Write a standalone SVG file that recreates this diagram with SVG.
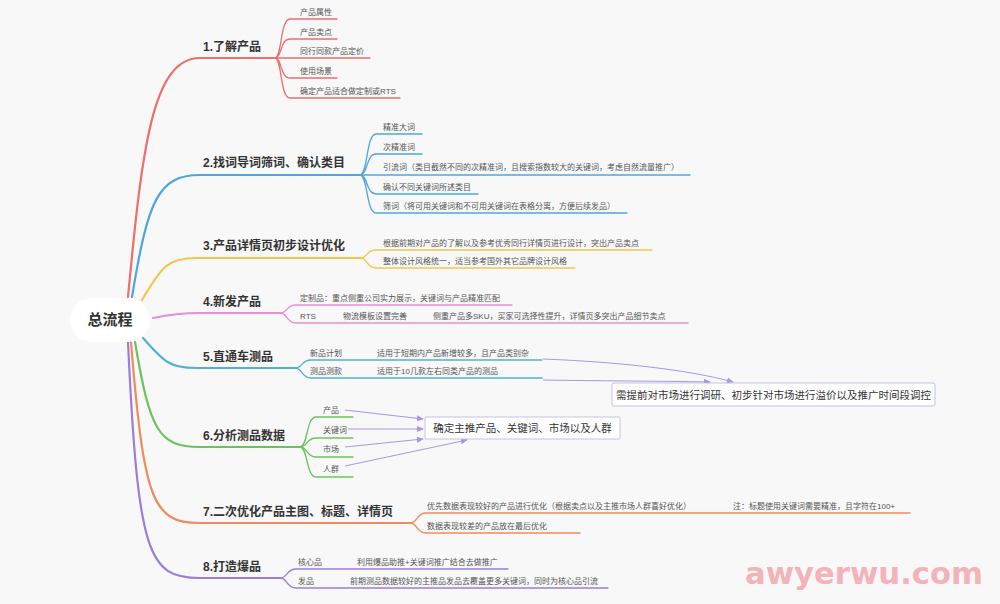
<svg xmlns="http://www.w3.org/2000/svg" width="1000" height="604" viewBox="0 0 1000 604">
<defs>
<style>
.lbl{font-family:"Liberation Sans","Noto Sans CJK SC",sans-serif;font-size:12px;font-weight:bold;fill:#333}
.sub{font-family:"Liberation Sans","Noto Sans CJK SC",sans-serif;font-size:8px;fill:#555}
.box{font-family:"Liberation Sans","Noto Sans CJK SC",sans-serif;font-size:10.5px;fill:#333}
.main{fill:none;stroke-width:2.2;stroke-linecap:round}
.br{fill:none;stroke-width:1.3;stroke-linecap:round}
.rel{fill:none;stroke:#a996e6;stroke-width:1}
</style>
<marker id="ah" viewBox="0 0 8 8" refX="7" refY="4" markerWidth="7" markerHeight="7" orient="auto" markerUnits="userSpaceOnUse">
<path d="M0,0.5 L8,4 L0,7.5 z" fill="#a996e6"/>
</marker>
</defs>
<rect width="1000" height="604" fill="#f8f8f8"/>

<g id="connectors">
<path class="main" stroke="#ec6e6e" stroke-width="3" d="M128,297 C142,150 152,58 200,58 L275,58"/>
<path class="main" stroke="#4da6de" stroke-width="3" d="M132,297 C148,200 158,175 200,175 L360,175"/>
<path class="main" stroke="#f4c54a" stroke-width="3" d="M142,300 C162,266 168,258 196,258 L360,258"/>
<path class="main" stroke="#e68fd6" stroke-width="3" d="M153,318 C172,314 184,313 200,313 L280,313"/>
<path class="main" stroke="#4fb3cf" stroke-width="3" d="M143,338 C164,362 170,368 196,368 L295,368"/>
<path class="main" stroke="#6cc25c" stroke-width="3" d="M135,342 C150,430 158,447 200,447 L300,447"/>
<path class="main" stroke="#f08a5d" stroke-width="3" d="M131,342 C144,500 152,523 200,523 L410,523"/>
<path class="main" stroke="#9a7ed8" stroke-width="3" d="M128,342 C138,555 148,578 200,578 L280,578"/>
<g stroke="#ec6e6e">
<path class="br" d="M275,58 C282,58 280,19 290,19 L337,19"/>
<path class="br" d="M275,58 C282,58 280,39 290,39 L337,39"/>
<path class="br" d="M275,58 L370,58"/>
<path class="br" d="M275,58 C282,58 280,78 290,78 L337,78"/>
<path class="br" d="M275,58 C282,58 280,98 290,98 L400,98"/>
</g>
<g stroke="#4da6de">
<path class="br" d="M360,175 C368,175 366,134 376,134 L422,134"/>
<path class="br" d="M360,175 C368,175 366,154 376,154 L422,154"/>
<path class="br" d="M360,175 L690,175"/>
<path class="br" d="M360,175 C368,175 366,194 376,194 L478,194"/>
<path class="br" d="M360,175 C368,175 366,213 376,213 L627,213"/>
</g>
<g stroke="#f4c54a">
<path class="br" d="M360,258 C368,258 366,250 376,250 L652,250"/>
<path class="br" d="M360,258 C368,258 366,268 376,268 L575,268"/>
</g>
<g stroke="#e68fd6">
<path class="br" d="M280,313 C288,313 286,305 296,305 L512,305"/>
<path class="br" d="M280,313 C288,313 286,323 296,323 L688,323"/>
</g>
<g stroke="#4fb3cf">
<path class="br" d="M295,368 C303,368 301,360 311,360 L542,360"/>
<path class="br" d="M295,368 C303,368 301,378 311,378 L542,378"/>
</g>
<g stroke="#6cc25c">
<path class="br" d="M300,447 C308,447 306,417 316,417 L353,417"/>
<path class="br" d="M300,447 C308,447 306,438 316,438 L353,438"/>
<path class="br" d="M300,447 C308,447 306,457 316,457 L353,457"/>
<path class="br" d="M300,447 C308,447 306,477 316,477 L353,477"/>
</g>
<g stroke="#f08a5d">
<path class="br" d="M410,523 C418,523 416,513 426,513 L910,513"/>
<path class="br" d="M410,523 C418,523 416,533 426,533 L580,533"/>
</g>
<g stroke="#9a7ed8">
<path class="br" d="M280,578 C288,578 286,569 296,569 L508,569"/>
<path class="br" d="M280,578 C288,578 286,588 296,588 L608,588"/>
</g>
<path class="rel" marker-end="url(#ah)" d="M543,359 C620,362 690,370 733,382"/>
<path class="rel" marker-end="url(#ah)" d="M543,380 C600,381 660,381 710,382"/>
<path class="rel" marker-end="url(#ah)" d="M345,410 L423,419"/>
<path class="rel" marker-end="url(#ah)" d="M348,429 L423,429"/>
<path class="rel" marker-end="url(#ah)" d="M345,447 L423,439"/>
<path class="rel" marker-end="url(#ah)" d="M345,466 L467,440"/>
</g>

<g id="root">
<rect x="70" y="298" width="80" height="44" rx="22" fill="#ffffff"/>
<text x="110" y="325" text-anchor="middle" font-family="Liberation Sans,'Noto Sans CJK SC',sans-serif" font-size="15" font-weight="bold" fill="#333">总流程</text>
</g>

<g id="b1">
<text class="lbl" x="203" y="51">1.了解产品</text>
<text class="sub" x="300" y="15">产品属性</text>
<text class="sub" x="300" y="35">产品卖点</text>
<text class="sub" x="300" y="54">同行同款产品定价</text>
<text class="sub" x="300" y="74">使用场景</text>
<text class="sub" x="300" y="94">确定产品适合做定制或RTS</text>
</g>
<g id="b2">
<text class="lbl" x="203" y="167">2.找词导词筛词、确认类目</text>
<text class="sub" x="383" y="130">精准大词</text>
<text class="sub" x="383" y="150">次精准词</text>
<text class="sub" x="383" y="170">引流词（类目截然不同的次精准词，且搜索指数较大的关键词，考虑自然流量推广）</text>
<text class="sub" x="383" y="190">确认不同关键词所述类目</text>
<text class="sub" x="383" y="209">筛词（将可用关键词和不可用关键词在表格分离，方便后续发品）</text>
</g>
<g id="b3">
<text class="lbl" x="203" y="250">3.产品详情页初步设计优化</text>
<text class="sub" x="383" y="246">根据前期对产品的了解以及参考优秀同行详情页进行设计，突出产品卖点</text>
<text class="sub" x="383" y="264">整体设计风格统一，适当参考国外其它品牌设计风格</text>
</g>
<g id="b4">
<text class="lbl" x="203" y="306">4.新发产品</text>
<text class="sub" x="300" y="301">定制品：重点侧重公司实力展示，关键词与产品精准匹配</text>
<text class="sub" x="300" y="319">RTS</text>
<text class="sub" x="343" y="319">物流模板设置完善</text>
<text class="sub" x="433" y="319">侧重产品多SKU，买家可选择性提升，详情页多突出产品细节卖点</text>
</g>
<g id="b5">
<text class="lbl" x="203" y="361">5.直通车测品</text>
<text class="sub" x="310" y="356">新品计划</text>
<text class="sub" x="377" y="356">适用于短期内产品新增较多，且产品类别杂</text>
<text class="sub" x="310" y="374">测品测款</text>
<text class="sub" x="377" y="374">适用于10几款左右同类产品的测品</text>
</g>
<g id="note5">
<rect x="612" y="383" width="323" height="23" rx="2" fill="#ffffff" stroke="#b9b3dc" stroke-width="0.8"/>
<text class="box" x="773.5" y="398.5" text-anchor="middle">需提前对市场进行调研、初步针对市场进行溢价以及推广时间段调控</text>
</g>
<g id="b6">
<text class="lbl" x="203" y="440">6.分析测品数据</text>
<text class="sub" x="323" y="413">产品</text>
<text class="sub" x="323" y="433">关键词</text>
<text class="sub" x="323" y="452">市场</text>
<text class="sub" x="323" y="472">人群</text>
</g>
<g id="note6">
<rect x="425" y="417" width="195" height="22" rx="1" fill="#ffffff" stroke="#b9b3dc" stroke-width="0.8"/>
<text class="box" x="522.5" y="432" text-anchor="middle">确定主推产品、关键词、市场以及人群</text>
</g>
<g id="b7">
<text class="lbl" x="203" y="516">7.二次优化产品主图、标题、详情页</text>
<text class="sub" x="427" y="509">优先数据表现较好的产品进行优化（根据卖点以及主推市场人群喜好优化）</text>
<text class="sub" x="733" y="509">注：标题使用关键词需要精准，且字符在100+</text>
<text class="sub" x="427" y="529">数据表现较差的产品放在最后优化</text>
</g>
<g id="b8">
<text class="lbl" x="203" y="571">8.打造爆品</text>
<text class="sub" x="298" y="565">核心品</text>
<text class="sub" x="357" y="565">利用爆品助推+关键词推广结合去做推广</text>
<text class="sub" x="298" y="584">发品</text>
<text class="sub" x="350" y="584">前期测品数据较好的主推品发品去覆盖更多关键词，同时为核心品引流</text>
</g>
<text x="745" y="584" font-family="DejaVu Sans,sans-serif" font-size="30" font-weight="bold" fill="#f4b3b9" textLength="238" lengthAdjust="spacingAndGlyphs">awyerwu.com</text>
</svg>
